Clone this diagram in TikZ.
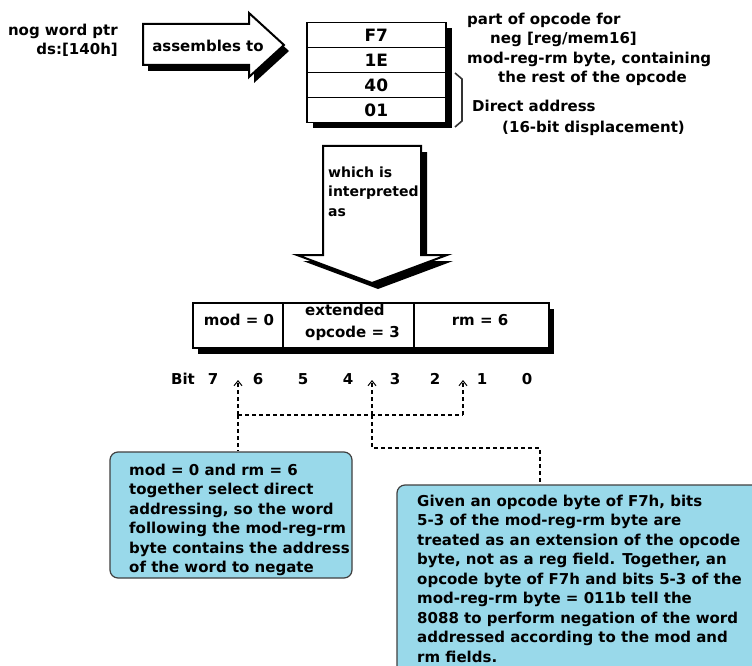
\documentclass[tikz,border=0pt]{standalone}
\usepackage{fontspec}
\setmainfont{DejaVu Sans}
\usetikzlibrary{arrows.meta}
\definecolor{callblue}{RGB}{153,217,234}
\newcommand\fs{\rule{0pt}{12pt}}
\begin{document}
\begin{tikzpicture}[x=1pt,y=-1pt,
  lbl/.style={font=\fontsize{15}{19.5}\selectfont\bfseries, inner sep=0pt},
  lblsm/.style={font=\fontsize{14}{19.5}\selectfont\bfseries, inner sep=0pt},
  outl/.style={draw=black, line width=2pt, fill=white, line join=miter},
  shad/.style={fill=black},
  cell/.style={draw=black, line width=1.5pt, fill=white, inner sep=0pt,
    font=\fontsize{17}{20}\selectfont\bfseries},
  callout/.style={draw=black!75, line width=1.2pt, fill=callblue, rounded corners=8pt, inner sep=0pt},
  dline/.style={draw=black, line width=1.2pt, dash pattern=on 4pt off 3pt},
  dtip/.style={dline, -{Straight Barb[length=5pt,width=8pt,line width=1pt]}}
]
\useasboundingbox (0,0) rectangle (752,666);
\fill[white] (0,0) rectangle (752,666);
\clip (0,0) rectangle (752,666);

% source text
\node[lbl, align=right, anchor=north east] (src) at (118,23) {\fs nog word ptr\\ds:[140h]};

% "assembles to" arrow
\fill[shad, shift={(5,6)}] (143,24) -- (249,24) -- (249,13) -- (284,45) -- (249,77) -- (249,65) -- (143,65) -- cycle;
\draw[outl] (143,24) -- (249,24) -- (249,13) -- (284,45) -- (249,77) -- (249,65) -- (143,65) -- cycle;
\node[lbl, anchor=base] (asm) at (208,52) {assembles to};

% byte stack
\fill[shad] (313,28) rectangle (452,128);
\node[cell, minimum width=139pt, minimum height=25pt, anchor=north west] (b1) at (306,22) {F7};
\node[cell, minimum width=139pt, minimum height=25pt, anchor=north west] (b2) at (306,47) {1E};
\node[cell, minimum width=139pt, minimum height=25pt, anchor=north west] (b3) at (306,72) {40};
\node[cell, minimum width=139pt, minimum height=25pt, anchor=north west] (b4) at (306,97) {01};

% brace
\draw[line width=1.6pt, black!80] (455,73) -- (462,79) -- (462,121) -- (455,127);

% right-side notes
\node[lbl, anchor=base west] (p1) at (467,25) {part of opcode for};
\node[lbl, anchor=base west] (p2) at (490,44) {neg [reg/mem16]};
\node[lbl, anchor=base west] (p3) at (467,64) {mod-reg-rm byte, containing};
\node[lbl, anchor=base west] (p4) at (498,83) {the rest of the opcode};
\node[lbl, anchor=base west] (p5) at (472,112) {Direct address};
\node[lbl, anchor=base west] (p6) at (502,132) {(16-bit displacement)};

% "which is interpreted as" arrow
\fill[shad, shift={(6,6)}] (323,146) -- (421,146) -- (421,255) -- (447,255) -- (372,283) -- (297,255) -- (323,255) -- cycle;
\draw[outl] (323,146) -- (421,146) -- (421,255) -- (447,255) -- (372,283) -- (297,255) -- (323,255) -- cycle;
\node[lblsm, align=left, anchor=north west] (interp) at (328,165) {\fs which is\\interpreted\\as};

% mod-reg-rm box
\fill[shad] (198,309) rectangle (554,354);
\node[cell, minimum width=90pt, minimum height=45pt, anchor=north west] (m1) at (192,302) {};
\node[cell, minimum width=131pt, minimum height=45pt, anchor=north west] (m2) at (282,302) {};
\node[cell, minimum width=135pt, minimum height=45pt, anchor=north west] (m3) at (413,302) {};
\node[lbl, anchor=base] (mt1) at (239,325) {mod = 0};
\node[lbl, align=left, anchor=north west] (mt2) at (305,303) {\fs extended\\[2.5pt]opcode = 3};
\node[lbl, anchor=base] (mt3) at (480,325) {rm = 6};

% bit numbers
\node[lbl, anchor=base] (bit) at (183,384) {Bit};
\node[lbl, anchor=base] (n7) at (213,384) {7};
\node[lbl, anchor=base] (n6) at (258,384) {6};
\node[lbl, anchor=base] (n5) at (303,384) {5};
\node[lbl, anchor=base] (n4) at (348,384) {4};
\node[lbl, anchor=base] (n3) at (395,384) {3};
\node[lbl, anchor=base] (n2) at (435,384) {2};
\node[lbl, anchor=base] (n1) at (482,384) {1};
\node[lbl, anchor=base] (n0) at (527,384) {0};

% callouts
\node[callout, minimum width=242pt, minimum height=126pt] (c1) at (231,515) {};
\node[callout, minimum width=373pt, minimum height=195pt] (c2) at (583.5,582.5) {};
\node[lbl, align=left, anchor=north west] (c1t) at (129,463) {\fs mod = 0 and rm = 6\\together select direct\\addressing, so the word\\following the mod-reg-rm\\byte contains the address\\of the word to negate};
\node[lbl, align=left, anchor=north west] (c2t) at (417,494) {\fs Given an opcode byte of F7h, bits\\5-3 of the mod-reg-rm byte are\\treated as an extension of the opcode\\byte, not as a reg field. Together, an\\opcode byte of F7h and bits 5-3 of the\\mod-reg-rm byte = 011b tell the\\8088 to perform negation of the word\\addressed according to the mod and\\rm fields.};

% dashed connectors
\coordinate (t1) at (238,380);
\coordinate (t2) at (372,380);
\coordinate (t3) at (463,380);
\coordinate (j1) at (238,415);
\coordinate (j2) at (372,415);
\coordinate (j3) at (463,415);
\coordinate (k2) at (372,448);
\coordinate (k3) at (540,448);
\draw[dtip] (j1) -- (t1);
\draw[dtip] (j2) -- (t2);
\draw[dtip] (j3) -- (t3);
\draw[dline] (j1) -- (j3);
\draw[dline] (j1) -- (j1 |- c1.north);
\draw[dline] (j2) -- (k2) -- (k3) -- (k3 |- c2.north);
\end{tikzpicture}
\end{document}
